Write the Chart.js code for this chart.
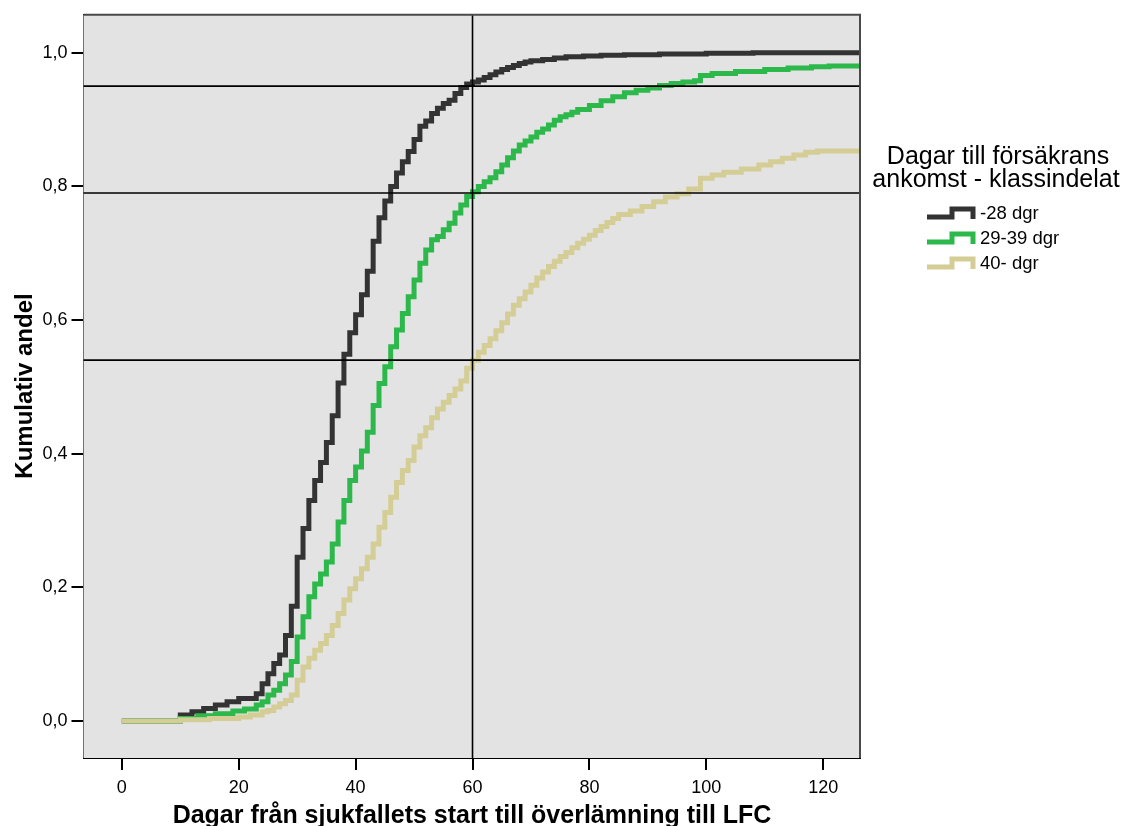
<!DOCTYPE html>
<html lang="sv">
<head>
<meta charset="utf-8">
<title>Kumulativ andel</title>
<script src="https://cdn.jsdelivr.net/npm/chart.js@4.4.1/dist/chart.umd.min.js"></script>
<style>
  html, body { margin: 0; padding: 0; background: #ffffff; }
  #wrap { width: 1124px; height: 826px; position: relative; }
</style>
</head>
<body>
<div id="wrap"><canvas id="c" width="1124" height="826"></canvas></div>
<script>
// Axis ticks
const xTickValues = [0, 20, 40, 60, 80, 100, 120];
const yTickValues = [0, 0.2, 0.4, 0.6, 0.8, 1.0];

// Reference lines
const refDays = [60];
const refShares = [0.95, 0.79, 0.54];

// Series names and legend title
const seriesNames = ['-28 dgr', '29-39 dgr', '40- dgr'];
const legendTitle = ['Dagar till försäkrans', 'ankomst - klassindelat'];
const xTitle = 'Dagar från sjukfallets start till överlämning till LFC';
const yTitle = 'Kumulativ andel';

// -28 dgr: day where the cumulative share changes, and the new share
const days28 = [0, 10, 12, 14, 16, 18, 20, 23, 24, 25, 26, 27, 28, 29, 30, 31, 32, 33, 34, 35,
  36, 37, 38, 39, 40, 41, 42, 43, 44, 45, 46, 47, 48, 49, 50, 51, 52, 53, 54, 55,
  56, 57, 58, 59, 60, 61, 62, 63, 64, 65, 66, 67, 68, 69, 70, 72, 74, 76, 79, 82,
  86, 92, 100, 108, 127];
const share28 = [0, 0.009, 0.014, 0.019, 0.024, 0.029, 0.034, 0.041, 0.056, 0.071, 0.086, 0.099, 0.128, 0.172, 0.245, 0.288, 0.330, 0.360, 0.387, 0.417,
  0.457, 0.506, 0.549, 0.581, 0.608, 0.638, 0.673, 0.718, 0.753, 0.778, 0.800, 0.820, 0.837, 0.852, 0.870, 0.890, 0.898, 0.909, 0.917, 0.924,
  0.929, 0.939, 0.948, 0.953, 0.956, 0.959, 0.963, 0.967, 0.971, 0.975, 0.978, 0.981, 0.984, 0.986, 0.988, 0.990, 0.992, 0.994, 0.995, 0.996,
  0.997, 0.998, 0.999, 1.000, 1.000];

// 29-39 dgr
const days2939 = [0, 10, 13, 16, 19, 21, 23, 24, 25, 26, 27, 28, 29, 30, 31, 32, 33, 34, 35, 36,
  37, 38, 39, 40, 41, 42, 43, 44, 45, 46, 47, 48, 49, 50, 51, 52, 53, 54, 55, 56,
  57, 58, 59, 60, 61, 62, 63, 64, 65, 66, 67, 68, 69, 70, 71, 72, 73, 74, 75, 76,
  77, 78, 80, 82, 84, 86, 88, 90, 92, 94, 96, 98, 99, 101, 105, 110, 114, 118, 121, 127];
const share2939 = [0, 0.004, 0.008, 0.011, 0.015, 0.018, 0.024, 0.029, 0.039, 0.046, 0.056, 0.069, 0.089, 0.126, 0.156, 0.186, 0.205, 0.220, 0.238, 0.265,
  0.298, 0.330, 0.360, 0.380, 0.404, 0.432, 0.472, 0.505, 0.530, 0.560, 0.585, 0.610, 0.635, 0.660, 0.685, 0.705, 0.720, 0.725, 0.735, 0.745,
  0.760, 0.772, 0.785, 0.792, 0.800, 0.807, 0.813, 0.822, 0.832, 0.843, 0.853, 0.862, 0.868, 0.874, 0.881, 0.886, 0.892, 0.899, 0.904, 0.907,
  0.911, 0.915, 0.921, 0.928, 0.934, 0.940, 0.944, 0.947, 0.951, 0.954, 0.956, 0.958, 0.966, 0.969, 0.972, 0.975, 0.977, 0.979, 0.980, 0.980];

// 40- dgr
const days40 = [0, 10, 15, 20, 22, 24, 25, 26, 27, 28, 29, 30, 31, 32, 33, 34, 35, 36, 37, 38,
  39, 40, 41, 42, 43, 44, 45, 46, 47, 48, 49, 50, 51, 52, 53, 54, 55, 56, 57, 58,
  59, 60, 61, 62, 63, 64, 65, 66, 67, 68, 69, 70, 71, 72, 73, 74, 75, 76, 77, 78,
  79, 80, 81, 82, 83, 84, 85, 87, 89, 91, 93, 95, 97, 99, 101, 103, 106, 109, 111, 113,
  115, 117, 119, 127];
const share40 = [0, 0.002, 0.004, 0.006, 0.009, 0.014, 0.016, 0.021, 0.026, 0.031, 0.039, 0.061, 0.081, 0.094, 0.106, 0.116, 0.128, 0.143, 0.161, 0.181,
  0.198, 0.213, 0.228, 0.245, 0.265, 0.290, 0.312, 0.335, 0.357, 0.375, 0.390, 0.410, 0.427, 0.439, 0.454, 0.467, 0.477, 0.487, 0.497, 0.509,
  0.528, 0.540, 0.552, 0.562, 0.572, 0.584, 0.596, 0.609, 0.622, 0.632, 0.642, 0.652, 0.663, 0.672, 0.680, 0.688, 0.695, 0.701, 0.708, 0.715,
  0.721, 0.727, 0.734, 0.740, 0.746, 0.752, 0.758, 0.763, 0.770, 0.777, 0.784, 0.789, 0.796, 0.812, 0.817, 0.821, 0.826, 0.832, 0.837, 0.842,
  0.847, 0.851, 0.853, 0.853];

const colors = ['#333333', '#2db84b', '#d4ce96'];
const FONT = '"Liberation Sans", Arial, Helvetica, sans-serif';

function pts(days, vals) {
  return days.map((d, i) => ({ x: d, y: vals[i] }));
}

const plotArea = {
  id: 'plotArea',
  beforeDatasetsDraw(chart) {
    const { ctx, chartArea: a } = chart;
    ctx.save();
    ctx.fillStyle = '#e3e3e3';
    ctx.fillRect(a.left, a.top, a.right - a.left, a.bottom - a.top);
    ctx.restore();
  },
  afterDatasetsDraw(chart) {
    const { ctx, chartArea: a, scales } = chart;
    ctx.save();
    ctx.strokeStyle = '#000000';
    ctx.lineWidth = 1.6;
    refDays.forEach(d => {
      const x = scales.x.getPixelForValue(d);
      ctx.beginPath(); ctx.moveTo(x, a.top); ctx.lineTo(x, a.bottom); ctx.stroke();
    });
    refShares.forEach(v => {
      const y = scales.y.getPixelForValue(v);
      ctx.beginPath(); ctx.moveTo(a.left, y); ctx.lineTo(a.right, y); ctx.stroke();
    });
    // frame on top and right
    ctx.strokeStyle = '#4a4a4a';
    ctx.lineWidth = 2;
    ctx.beginPath();
    ctx.moveTo(a.left, a.top); ctx.lineTo(a.right, a.top); ctx.lineTo(a.right, a.bottom);
    ctx.stroke();
    ctx.restore();
  },
  afterDraw(chart) {
    const { ctx } = chart;
    ctx.save();
    ctx.fillStyle = '#000000';
    // x axis title
    ctx.font = 'bold 25px ' + FONT;
    ctx.textAlign = 'center';
    ctx.textBaseline = 'alphabetic';
    ctx.fillText(xTitle, 472, 823);
    // y axis title
    ctx.save();
    ctx.translate(32, 386);
    ctx.rotate(-Math.PI / 2);
    ctx.font = 'bold 24px ' + FONT;
    ctx.textAlign = 'center';
    ctx.textBaseline = 'alphabetic';
    ctx.fillText(yTitle, 0, 0);
    ctx.restore();
    // legend
    ctx.font = '25px ' + FONT;
    ctx.textAlign = 'center';
    ctx.textBaseline = 'middle';
    ctx.fillText(legendTitle[0], 998, 157);
    ctx.fillText(legendTitle[1], 996, 180);
    const rows = [214, 239, 264];
    ctx.font = '18.5px ' + FONT;
    ctx.textAlign = 'left';
    seriesNames.forEach((name, i) => {
      const cy = rows[i];
      ctx.strokeStyle = colors[i];
      ctx.lineWidth = 5;
      ctx.lineJoin = 'miter';
      ctx.lineCap = 'butt';
      ctx.beginPath();
      ctx.moveTo(927, cy + 3);
      ctx.lineTo(952, cy + 3);
      ctx.lineTo(952, cy - 5);
      ctx.lineTo(973, cy - 5);
      ctx.lineTo(973, cy + 5);
      ctx.stroke();
      ctx.fillStyle = '#000000';
      ctx.fillText(name, 980, cy);
    });
    ctx.restore();
  }
};

const lineDs = (label, data, color, order) => ({
  label, data,
  borderColor: color,
  backgroundColor: color,
  borderWidth: 5,
  stepped: true,
  pointRadius: 0,
  fill: false,
  tension: 0,
  borderJoinStyle: 'miter',
  borderCapStyle: 'butt',
  clip: 0,
  order
});

new Chart(document.getElementById('c'), {
  type: 'line',
  data: {
    datasets: [
      lineDs(seriesNames[0], pts(days28, share28), colors[0], 2),
      lineDs(seriesNames[1], pts(days2939, share2939), colors[1], 1),
      lineDs(seriesNames[2], pts(days40, share40), colors[2], 0)
    ]
  },
  options: {
    responsive: false,
    animation: false,
    events: [],
    layout: { padding: { left: 0, top: 13, right: 264, bottom: 0 } },
    plugins: { legend: { display: false }, tooltip: { enabled: false }, title: { display: false } },
    scales: {
      x: {
        type: 'linear',
        min: -6.56,
        max: 126.3,
        afterFit(s) { s.height = 68; },
        afterBuildTicks(s) { s.ticks = xTickValues.map(v => ({ value: v })); },
        grid: { display: true, drawOnChartArea: false, drawTicks: true, tickLength: 12, color: '#000000', lineWidth: 2 },
        border: { display: true, color: '#000000', width: 2 },
        ticks: { color: '#000000', font: { family: FONT, size: 18 }, padding: 7, maxRotation: 0, autoSkip: false,
          callback: v => String(v) }
      },
      y: {
        type: 'linear',
        min: -0.0552,
        max: 1.0567,
        afterFit(s) { s.width = 83.5; },
        afterBuildTicks(s) { s.ticks = yTickValues.map(v => ({ value: v })); },
        grid: { display: true, drawOnChartArea: false, drawTicks: true, tickLength: 12, color: '#000000', lineWidth: 2 },
        border: { display: true, color: '#000000', width: 2 },
        ticks: { color: '#000000', font: { family: FONT, size: 18 }, padding: 4, autoSkip: false,
          callback: v => v.toFixed(1).replace('.', ',') }
      }
    }
  },
  plugins: [plotArea]
});
</script>
</body>
</html>
